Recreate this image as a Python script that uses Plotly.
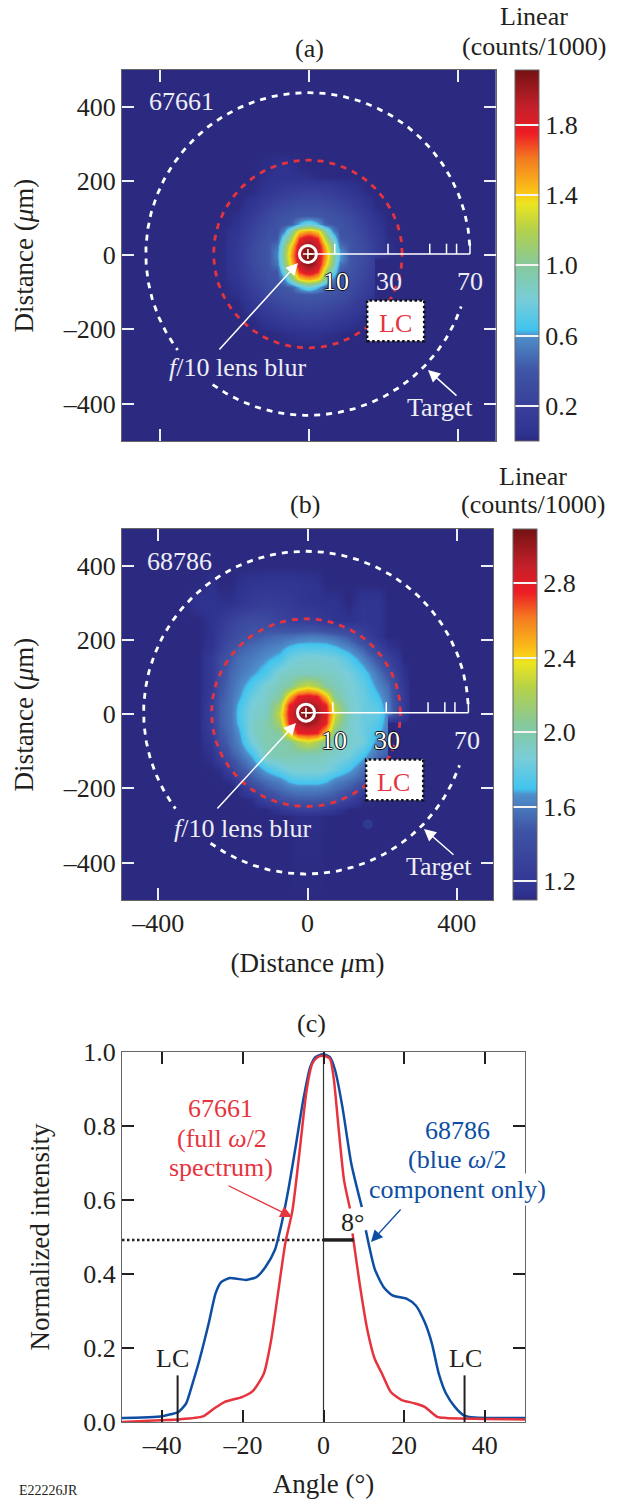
import numpy as np
import plotly.graph_objects as go

W, H = 621, 1499
SERIF = "Liberation Serif"
TEXT = "#231f20"
PALE = "#eeeef6"
RED = "#e6343e"
BLUE = "#0d4ea2"
FS = 26
FT = 27

# ---------- panel (a) field, counts/1000 ----------
X_A = [-500,-270,-230,-190,-150,-110,-85,-65,-45,-25,-10,0,10,25,45,65,85,110,150,176,178,210,240,500]
Y_A = [-500,-250,-210,-170,-130,-105,-85,-65,-45,-25,-10,0,10,25,45,65,85,105,130,170,210,240,280,500]
Z_A = [
 [0]*24,
 [0]*24,
 [0,0,0,0,0,0,.01,.02,.03,.04,.04,.04,.04,.04,.03,.02,.01,0,0,0,0,0,0,0],
 [0,0,0,0,.01,.08,.12,.16,.18,.2,.21,.21,.21,.2,.18,.16,.12,.08,.01,0,0,0,0,0],
 [0,0,0,0,.09,.21,.27,.3,.33,.35,.35,.35,.35,.35,.33,.3,.27,.21,.09,.02,0,0,0,0],
 [0,0,0,.03,.15,.28,.34,.37,.39,.41,.42,.42,.42,.41,.39,.37,.34,.28,.15,.06,0,0,0,0],
 [0,0,0,.04,.19,.32,.38,.4,.44,.64,.76,.8,.76,.64,.44,.4,.38,.32,.19,.1,0,0,0,0],
 [0,0,.01,.08,.23,.35,.38,.55,1.0,1.38,1.47,1.5,1.47,1.38,1.0,.55,.38,.35,.23,.13,0,0,0,0],
 [0,0,.01,.1,.25,.38,.4,.8,1.2,1.7,1.82,1.85,1.82,1.7,1.2,.8,.4,.38,.25,.15,0,0,0,0],
 [0,0,.01,.11,.28,.4,.5,1.0,1.45,1.88,2.02,2.05,2.02,1.88,1.45,1.0,.5,.4,.28,.17,0,0,0,0],
 [0,0,.01,.12,.29,.4,.54,1.05,1.52,1.9,2.07,2.09,2.07,1.9,1.52,1.05,.6,.4,.29,.18,0,0,0,0],
 [0,0,.01,.12,.29,.4,.55,1.06,1.55,1.92,2.08,2.11,2.08,1.92,1.55,1.06,.62,.4,.29,.18,.18,.04,0,0],
 [0,0,.01,.12,.29,.4,.54,1.05,1.52,1.9,2.07,2.09,2.07,1.9,1.52,1.05,.6,.4,.29,.18,.17,.04,0,0],
 [0,0,.01,.11,.28,.4,.5,1.0,1.45,1.88,2.02,2.05,2.02,1.88,1.45,1.0,.5,.4,.28,.17,.16,.03,0,0],
 [0,0,.01,.1,.25,.38,.4,.8,1.2,1.7,1.82,1.85,1.82,1.7,1.2,.8,.4,.38,.25,.15,.14,.02,0,0],
 [0,0,.01,.08,.23,.35,.38,.55,1.0,1.38,1.47,1.5,1.47,1.38,1.0,.55,.38,.35,.23,.13,.12,.01,0,0],
 [0,0,0,.04,.19,.32,.38,.4,.44,.64,.76,.8,.76,.64,.44,.4,.38,.32,.19,.1,.09,.01,0,0],
 [0,0,0,.03,.15,.28,.34,.37,.39,.41,.42,.42,.42,.41,.39,.37,.34,.28,.15,.06,.05,0,0,0],
 [0,0,0,0,.09,.21,.27,.3,.33,.35,.35,.35,.35,.35,.33,.3,.27,.21,.09,.02,.01,0,0,0],
 [0,0,0,0,.01,.08,.12,.16,.18,.2,.21,.21,.21,.2,.18,.16,.12,.08,.01,0,0,0,0,0],
 [0,0,0,0,0,.03,.04,.04,.04,.04,.04,.03,.02,.01,.005,0,0,0,0,0,0,0,0,0],
 [0,0,0,0,0,.02,.04,.04,.03,.01,0,0,0,0,0,0,0,0,0,0,0,0,0,0],
 [0]*24,
 [0]*24,
]

# ---------- panel (b) field, counts/1000 ----------
X_B = [-500,-330,-290,-255,-235,-205,-185,-150,-110,-75,-50,-25,0,25,50,75,110,150,190,215,217,255,275,500]
Y_B = [-500,-275,-255,-230,-200,-180,-150,-110,-75,-50,-25,0,25,50,75,110,150,180,210,250,300,350,400,500]
Z_B = [
 [1.1]*24,
 [1.1,1.1,1.1,1.1,1.1,1.1,1.1,1.1,1.1,1.1,1.1,1.12,1.12,1.12,1.1,1.1,1.1,1.1,1.1,1.1,1.1,1.1,1.1,1.1],
 [1.1,1.1,1.1,1.1,1.1,1.1,1.1,1.1,1.1,1.18,1.25,1.3,1.3,1.3,1.25,1.18,1.1,1.1,1.1,1.1,1.1,1.1,1.1,1.1],
 [1.1,1.1,1.1,1.1,1.1,1.1,1.1,1.12,1.32,1.45,1.48,1.5,1.5,1.5,1.48,1.45,1.32,1.12,1.1,1.1,1.1,1.1,1.1,1.1],
 [1.1,1.1,1.1,1.1,1.1,1.1,1.12,1.35,1.5,1.56,1.6,1.62,1.62,1.62,1.6,1.56,1.5,1.35,1.1,1.1,1.1,1.1,1.1,1.1],
 [1.1,1.1,1.1,1.1,1.1,1.12,1.25,1.48,1.56,1.62,1.7,1.74,1.74,1.74,1.7,1.62,1.56,1.48,1.2,1.1,1.1,1.1,1.1,1.1],
 [1.1,1.1,1.1,1.1,1.12,1.3,1.45,1.56,1.7,1.8,1.86,1.88,1.88,1.88,1.86,1.8,1.7,1.56,1.4,1.2,1.1,1.1,1.1,1.1],
 [1.1,1.1,1.1,1.14,1.3,1.5,1.55,1.7,1.95,1.98,1.98,1.96,1.95,1.95,1.93,1.9,1.85,1.72,1.55,1.5,1.1,1.1,1.1,1.1],
 [1.1,1.1,1.1,1.2,1.44,1.55,1.62,1.85,1.98,1.98,2.02,2.2,2.3,2.2,2.02,1.95,1.9,1.85,1.62,1.55,1.1,1.1,1.1,1.1],
 [1.1,1.1,1.1,1.24,1.47,1.56,1.65,1.9,1.98,2.02,2.45,2.75,2.78,2.75,2.45,2.02,1.9,1.82,1.7,1.6,1.1,1.1,1.1,1.1],
 [1.1,1.1,1.1,1.28,1.5,1.58,1.7,1.9,1.98,2.2,2.75,2.92,3.0,2.92,2.75,2.2,1.9,1.82,1.75,1.62,1.1,1.1,1.1,1.1],
 [1.1,1.1,1.1,1.28,1.5,1.58,1.72,1.88,1.92,2.3,2.8,3.0,3.09,3.0,2.8,2.3,1.92,1.82,1.8,1.62,1.62,1.25,1.1,1.1],
 [1.1,1.1,1.1,1.28,1.5,1.58,1.7,1.86,1.92,2.2,2.75,2.92,3.0,2.92,2.75,2.2,1.9,1.82,1.75,1.6,1.6,1.24,1.1,1.1],
 [1.1,1.1,1.1,1.25,1.48,1.57,1.65,1.82,1.9,2.02,2.45,2.75,2.8,2.75,2.45,2.02,1.88,1.82,1.7,1.58,1.58,1.22,1.1,1.1],
 [1.1,1.1,1.1,1.22,1.45,1.56,1.62,1.75,1.88,1.95,2.02,2.2,2.3,2.2,2.02,1.95,1.88,1.8,1.64,1.55,1.55,1.2,1.1,1.1],
 [1.1,1.1,1.1,1.22,1.42,1.54,1.58,1.66,1.74,1.9,1.92,1.93,1.93,1.93,1.92,1.9,1.85,1.74,1.58,1.45,1.45,1.15,1.1,1.1],
 [1.1,1.1,1.1,1.22,1.38,1.5,1.55,1.6,1.66,1.72,1.82,1.86,1.88,1.88,1.86,1.85,1.75,1.62,1.45,1.3,1.3,1.1,1.1,1.1],
 [1.1,1.1,1.1,1.16,1.3,1.45,1.5,1.55,1.6,1.64,1.7,1.74,1.74,1.74,1.74,1.7,1.62,1.5,1.3,1.15,1.15,1.1,1.1,1.1],
 [1.1,1.1,1.1,1.14,1.26,1.36,1.42,1.48,1.52,1.55,1.56,1.58,1.6,1.6,1.58,1.55,1.48,1.32,1.15,1.1,1.1,1.1,1.1,1.1],
 [1.1,1.1,1.1,1.14,1.2,1.3,1.36,1.4,1.38,1.32,1.3,1.28,1.28,1.25,1.2,1.16,1.14,1.17,1.16,1.1,1.1,1.1,1.1,1.1],
 [1.1,1.1,1.15,1.15,1.13,1.13,1.16,1.22,1.26,1.24,1.22,1.18,1.16,1.15,1.14,1.14,1.1,1.17,1.16,1.1,1.1,1.1,1.1,1.1],
 [1.1,1.1,1.1,1.13,1.1,1.1,1.13,1.16,1.17,1.17,1.17,1.17,1.15,1.14,1.1,1.1,1.1,1.1,1.1,1.1,1.1,1.1,1.1,1.1],
 [1.1]*24,
 [1.1]*24,
]

# ---------- panel (c) curves ----------
ANGLE_BLUE = [-50,-45,-40.5,-37.9,-36,-34.1,-32.5,-30.8,-28.5,-26.8,-25.4,-23.2,-21.5,-19.2,-16.6,-14.4,-12.1,-10.4,-8.6,-6.8,-5.05,-3.3,-2,-0.2,1.6,2.9,4.7,6.9,9.5,None,10.5,12.7,14.9,17.1,20.7,22.9,25.1,26.9,28.6,30.4,32.6,34.8,37.5,50]
VALUE_BLUE = [.011,.012,.015,.021,.027,.05,.104,.167,.266,.347,.378,.389,.387,.384,.392,.419,.464,.536,.635,.752,.869,.959,.986,.994,.986,.95,.851,.698,.581,None,.518,.414,.365,.342,.333,.315,.27,.212,.131,.077,.041,.018,.012,.011]
ANGLE_RED = [-50,-40.5,-36,-29.9,-27.2,-24.6,-20.1,-17.5,-14.8,-13,-11.3,-9.5,-7.7,-5.9,-4.2,-2.8,-1.5,0,1.6,2.5,3.8,5.1,6.57,None,7.2,9.1,10.9,12.7,14.5,16.7,19.3,22.4,25.1,28.2,30.4,50]
VALUE_RED = [0,.005,.007,.015,.036,.054,.068,.084,.131,.221,.347,.482,.572,.734,.896,.968,.986,.99,.982,.932,.788,.653,.577,None,.51,.365,.248,.171,.131,.081,.06,.051,.041,.014,.011,.007]
HALF_LEVEL = 0.492
HALF_ANGLE = 7.5
LC_ANGLES = [-36.2, 35]
LC_HEIGHT = 0.126

# ---------- overlay values ----------
TARGET_RADIUS = 435
LC_RADIUS = 253
TARGET_ARCS = [(3, 216.5), (234, 341)]
CENTER_A = (-2, 3)
CENTER_B = (-4, 4)
SCALE_TICKS_UM = [0, 72, 215, 327, 372, 399, 435]
SCALE_TICK_H = 28
BOX_X = [157, 310]
BOX_Y = [-232, -122]
BLOB_B = (162, -297)

XT_MAP = [-400, 0, 400]
XT_MAP_TXT = ["–400", "0", "400"]
YT_MAP = [-400, -200, 0, 200, 400]
YT_MAP_TXT = ["–400", "–200", "0", "200", "400"]
XT_C = [-40, -20, 0, 20, 40]
XT_C_TXT = ["–40", "–20", "0", "20", "40"]
YT_C = [0, .2, .4, .6, .8, 1.0]
YT_C_TXT = ["0.0", "0.2", "0.4", "0.6", "0.8", "1.0"]
CB_A = [.2, .6, 1.0, 1.4, 1.8]
CB_B = [1.2, 1.6, 2.0, 2.4, 2.8]

COLORS = [[0, "#2c2a80"], [.02, "#2f3390"], [.095, "#38409a"], [.19, "#3f55a5"], [.284, "#4f8fcb"], [.30, "#41c4f0"],
          [.38, "#78cdd8"], [.474, "#86c99b"], [.57, "#b4d14a"], [.64, "#ece51f"], [.665, "#fbc917"],
          [.76, "#f47b20"], [.83, "#ee1c25"], [.90, "#c4202a"], [1, "#741213"]]


def px_x(p): return p / W
def px_y(p): return 1 - p / H


def arc(center, radius, a0, a1):
    t = np.radians(np.linspace(a0, a1, 240))
    return center[0] + radius * np.cos(t), center[1] + radius * np.sin(t)


fig = go.Figure()


def colorbar(left, top, vals):
    return dict(x=px_x(left), xanchor="left", y=px_y(top), yanchor="top", xpad=0, ypad=0,
                len=371, lenmode="pixels", thickness=24, thicknessmode="pixels",
                tickmode="array", tickvals=vals, ticktext=[f"{v:.1f}" for v in vals],
                ticks="inside", ticklen=24, tickwidth=1.5, tickcolor="#f4f4f4",
                outlinecolor="#666666", outlinewidth=1,
                tickfont=dict(family=SERIF, size=FS, color=TEXT))


def add_map(xs, ys, zs, zmin, zmax, xa, ya, cb, center):
    fig.add_trace(go.Heatmap(x=xs, y=ys, z=zs, zmin=zmin, zmax=zmax, zsmooth="best",
                             colorscale=COLORS, colorbar=cb, xaxis=xa, yaxis=ya, hoverinfo="skip"))
    rx, ry = arc(center, LC_RADIUS, 0, 360)
    fig.add_trace(go.Scatter(x=rx, y=ry, mode="lines", xaxis=xa, yaxis=ya, showlegend=False, hoverinfo="skip",
                             line=dict(color=RED, width=2.8, dash="6px,6px")))
    for a0, a1 in TARGET_ARCS:
        tx, ty = arc(center, TARGET_RADIUS, a0, a1)
        fig.add_trace(go.Scatter(x=tx, y=ty, mode="lines", xaxis=xa, yaxis=ya, showlegend=False, hoverinfo="skip",
                                 line=dict(color="white", width=2.8, dash="6px,6px")))
    sx, sy = [center[0], center[0] + SCALE_TICKS_UM[-1]], [center[1], center[1]]
    for t in SCALE_TICKS_UM[1:]:
        sx += [None, center[0] + t, center[0] + t]
        sy += [None, center[1], center[1] + SCALE_TICK_H]
    fig.add_trace(go.Scatter(x=sx, y=sy, mode="lines", xaxis=xa, yaxis=ya, showlegend=False, hoverinfo="skip",
                             line=dict(color="white", width=1.5)))
    fig.add_trace(go.Scatter(x=[center[0]], y=[center[1]], mode="markers", xaxis=xa, yaxis=ya, showlegend=False,
                             hoverinfo="skip",
                             marker=dict(symbol="circle-open", size=17, color="white", line=dict(color="white", width=3))))
    fig.add_trace(go.Scatter(x=[center[0]], y=[center[1]], mode="markers", xaxis=xa, yaxis=ya, showlegend=False,
                             hoverinfo="skip",
                             marker=dict(symbol="cross-thin-open", size=7, color="white", line=dict(color="white", width=1.5))))


add_map(X_A, Y_A, Z_A, 0, 2.11, "x", "y", colorbar(515, 70, CB_A), CENTER_A)
add_map(X_B, Y_B, Z_B, 1.1, 3.09, "x2", "y2", colorbar(513, 529, CB_B), CENTER_B)
fig.add_trace(go.Scatter(x=[BLOB_B[0]], y=[BLOB_B[1]], mode="markers", xaxis="x2", yaxis="y2", showlegend=False,
                         hoverinfo="skip", marker=dict(size=10, color="#2f3a92")))

# panel (c)
fig.add_trace(go.Scatter(x=[0, 0], y=[0, 1], mode="lines", xaxis="x3", yaxis="y3", showlegend=False,
                         line=dict(color="#333333", width=1.2)))
fig.add_trace(go.Scatter(x=[-50, 0], y=[HALF_LEVEL, HALF_LEVEL], mode="lines", xaxis="x3", yaxis="y3", showlegend=False,
                         line=dict(color="#231f20", width=2.5, dash="2.5px,2.5px")))
fig.add_trace(go.Scatter(x=ANGLE_BLUE, y=VALUE_BLUE, mode="lines", xaxis="x3", yaxis="y3", name="68786",
                         showlegend=False, connectgaps=False,
                         line=dict(color=BLUE, width=2.5, shape="spline", smoothing=0.6)))
fig.add_trace(go.Scatter(x=ANGLE_RED, y=VALUE_RED, mode="lines", xaxis="x3", yaxis="y3", name="67661",
                         showlegend=False, connectgaps=False,
                         line=dict(color=RED, width=2.5, shape="spline", smoothing=0.6)))
fig.add_trace(go.Scatter(x=[0, HALF_ANGLE], y=[HALF_LEVEL, HALF_LEVEL], mode="lines", xaxis="x3", yaxis="y3",
                         showlegend=False, line=dict(color="#231f20", width=3.5)))
lx, ly = [], []
for a in LC_ANGLES:
    lx += [a, a, None]
    ly += [0, LC_HEIGHT, None]
fig.add_trace(go.Scatter(x=lx, y=ly, mode="lines", xaxis="x3", yaxis="y3", showlegend=False,
                         line=dict(color="#231f20", width=2)))


def axis(left, right, top, bottom, rng, vals, txt, color, labels=True, anchor=None, title=None, standoff=0):
    d = dict(domain=[px_x(left), px_x(right)] if anchor is None or anchor.startswith("y") else [px_y(bottom), px_y(top)],
             range=rng, tickmode="array", tickvals=vals, ticktext=txt, ticks="inside", ticklen=12, tickwidth=1.5,
             tickcolor=color, mirror="ticks", showline=True, linecolor="#666666", linewidth=1, showgrid=False,
             zeroline=False, showticklabels=labels, anchor=anchor,
             tickfont=dict(family=SERIF, size=FS, color=TEXT))
    if title:
        d["title"] = dict(text=title, standoff=standoff, font=dict(family=SERIF, size=FT, color=TEXT))
    return d


TITLE_D = "Distance (<i>μ</i>m)"
fig.update_layout(
    width=W, height=H, autosize=False, margin=dict(l=0, r=0, t=0, b=0, autoexpand=False),
    paper_bgcolor="white", plot_bgcolor="white", showlegend=False,
    xaxis=axis(122, 495.7, 70, 441, [-501, 502], XT_MAP, XT_MAP_TXT, "#eeeef6", False, "y"),
    yaxis=axis(122, 495.7, 70, 441, [-501, 499], YT_MAP, YT_MAP_TXT, "#eeeef6", True, "x", TITLE_D, 21),
    xaxis2=axis(122, 493, 529, 900, [-497, 497], XT_MAP, XT_MAP_TXT, "#eeeef6", True, "y2", "(Distance <i>μ</i>m)", 15),
    yaxis2=axis(122, 493, 529, 900, [-501, 499], YT_MAP, YT_MAP_TXT, "#eeeef6", True, "x2", TITLE_D, 21),
    xaxis3=axis(122, 525, 1052, 1422, [-50, 50], XT_C, XT_C_TXT, "#231f20", True, "y3", "Angle (°)", 16),
    yaxis3=axis(122, 525, 1052, 1422, [0, 1], YT_C, YT_C_TXT, "#231f20", True, "x3", "Normalized intensity", 25),
)

# LC boxes
for xr, yr in (("x", "y"), ("x2", "y2")):
    fig.add_shape(type="rect", x0=BOX_X[0], x1=BOX_X[1], y0=BOX_Y[0], y1=BOX_Y[1], xref=xr, yref=yr,
                  fillcolor="white", line=dict(color="#111111", width=2.5, dash="2.5px,2.5px"), layer="above")


def note(text, x, y, color=TEXT, size=FS, **kw):
    fig.add_annotation(text=text, x=px_x(x), y=px_y(y), xref="paper", yref="paper", showarrow=False,
                       xanchor="center", yanchor="middle", font=dict(family=SERIF, size=size, color=color, **kw.pop("fontkw", {})), **kw)


def arrow(tail, tip, color, width=1.5, head=1.6):
    fig.add_annotation(text="", x=px_x(tip[0]), y=px_y(tip[1]), xref="paper", yref="paper",
                       ax=tail[0] - tip[0], ay=tail[1] - tip[1], axref="pixel", ayref="pixel", showarrow=True,
                       arrowhead=2, arrowsize=head, arrowwidth=width, arrowcolor=color, standoff=0)


OUT = dict(shadow="1px 0 0 #111, -1px 0 0 #111, 0 1px 0 #111, 0 -1px 0 #111")
note("(a)", 309, 49)
note("Linear", 534, 17)
note("(counts/1000)", 534, 46)
note("67661", 181, 101, PALE)
note("<i>f</i>/10 lens blur", 238, 368, PALE)
note("Target", 440, 408, PALE)
note("10", 336, 281, "white", fontkw=OUT)
note("30", 389, 281, PALE)
note("70", 470, 281, PALE)
note("LC", 395, 323, RED)
arrow((218, 351), (298, 263), "white")
arrow((458, 397), (428, 370), "white")

note("(b)", 305, 505)
note("Linear", 533, 476)
note("(counts/1000)", 533, 505)
note("68786", 179, 561, PALE)
note("<i>f</i>/10 lens blur", 243, 828, PALE)
note("Target", 439, 866, PALE)
note("10", 334, 740, "white", fontkw=OUT)
note("30", 387, 740, "white", fontkw=OUT)
note("70", 467, 740, PALE)
note("LC", 393, 782, RED)
arrow((216, 810), (296, 723), "white")
arrow((455, 856), (424, 829), "white")

note("(c)", 311, 1024)
note("67661", 220, 1108, RED)
note("(full <i>ω</i>/2", 222, 1138, RED)
note("spectrum)", 221, 1167, RED)
note("68786", 458, 1130, BLUE)
note("(blue <i>ω</i>/2", 458, 1159, BLUE)
note("component only)", 458, 1189, BLUE, bgcolor="white")
note("8°", 352, 1222)
note("LC", 172.5, 1358)
note("LC", 465, 1358)
arrow((227, 1185), (292, 1217), RED, 1.3, 1.8)
arrow((402, 1208), (371, 1242), BLUE, 1.3, 1.8)
fig.add_annotation(text="E22226JR", x=px_x(17), y=px_y(1481), xref="paper", yref="paper", showarrow=False,
                   xanchor="left", yanchor="top", font=dict(family=SERIF, size=14, color=TEXT))

fig.write_html("out.html", config={"displayModeBar": False},
               post_script="document.body.style.margin='0';document.documentElement.style.overflow='hidden';")
